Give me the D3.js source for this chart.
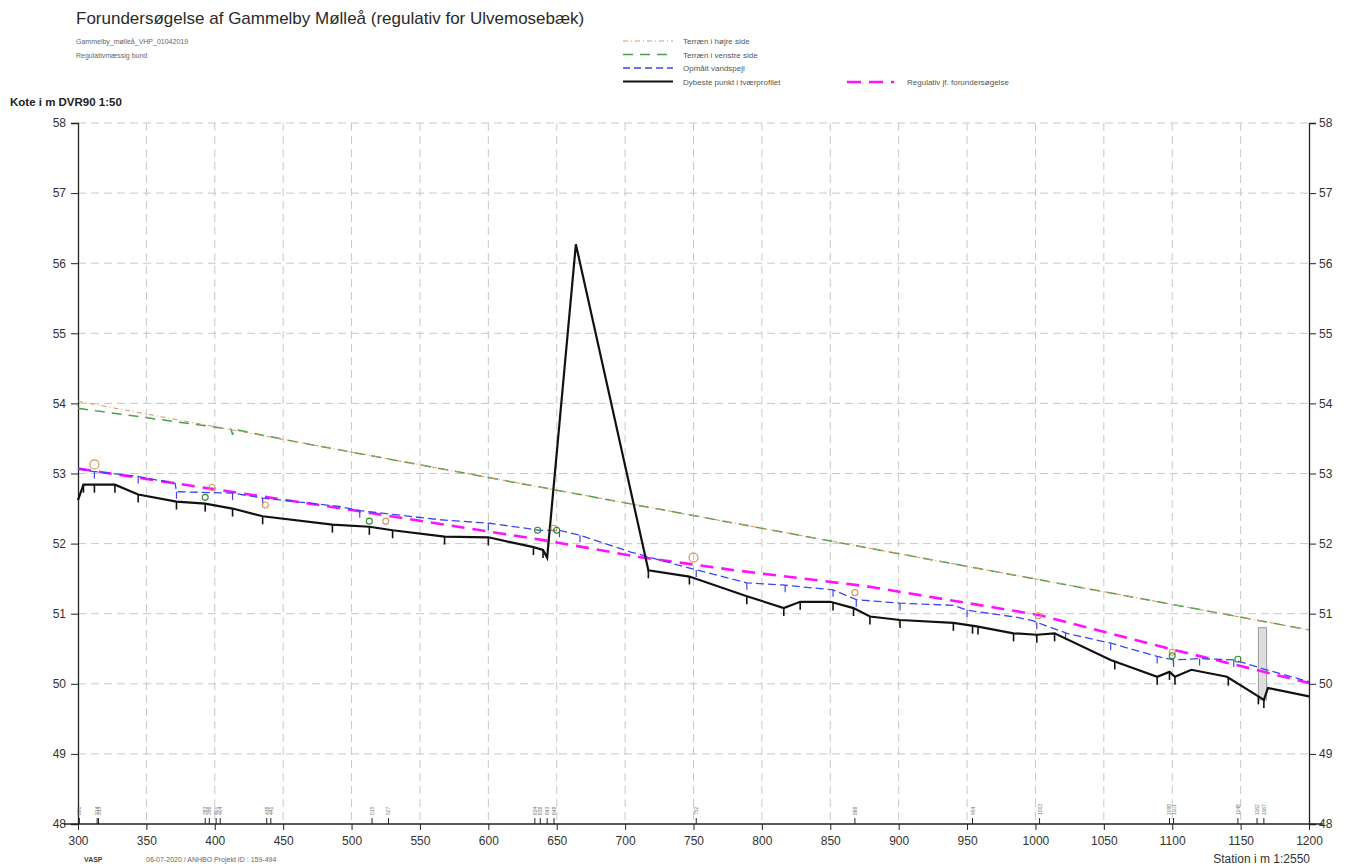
<!DOCTYPE html>
<html lang="da">
  <head>
    <meta charset="UTF-8" />
    <script src="https://cdnjs.cloudflare.com/ajax/libs/d3/7.8.5/d3.min.js"></script>
    <title>Forundersøgelse af Gammelby Mølleå</title>
    <style>
      body { margin: 0; background: white; }
      text { font-family: "Liberation Sans", Arial, sans-serif; }
      .grid line { stroke: #c8c8c8; stroke-dasharray: 8,5; stroke-width: 1; }
      .leg { font-size: 8px; fill: #555; }
    </style>
  </head>
  <body>
    <script>
      // x in station metres, y in kote (m DVR90)
      const xTicks = [300, 350, 400, 450, 500, 550, 600, 650, 700, 750, 800, 850, 900, 950, 1000, 1050, 1100, 1150, 1200];
      const yTicks = [48, 49, 50, 51, 52, 53, 54, 55, 56, 57, 58];

      const terrainRight = [[300, 54.03], [1200, 50.77]];
      const terrainLeft = [[300, 53.93], [412, 53.63], [413, 53.55], [414, 53.63], [460, 53.45], [1200, 50.77]];

      const waterLevel = [
        [300, 53.07], [311, 53.03], [343, 52.96], [371, 52.86], [372, 52.74], [413, 52.72], [435, 52.65],
        [491, 52.53], [506, 52.47], [565, 52.34], [601, 52.29], [638, 52.19], [652, 52.19], [667, 52.12],
        [704, 51.88], [747, 51.65], [789, 51.44], [815, 51.41], [852, 51.34], [869, 51.20], [901, 51.15],
        [940, 51.12], [950, 51.05], [986, 50.95], [998, 50.90], [1006, 50.84], [1023, 50.72], [1055, 50.58],
        [1089, 50.39], [1101, 50.34], [1120, 50.36], [1145, 50.34], [1169, 50.20], [1200, 50.03]
      ];
      const waterTicks = [312, 344, 372, 413, 435, 506, 600, 652, 667, 752, 789, 817, 852, 869, 901, 950, 1001, 1022, 1055, 1089, 1101, 1120, 1145];

      const deepest = [
        [300, 52.62], [304, 52.84], [327, 52.84], [344, 52.70], [372, 52.60], [393, 52.57], [413, 52.50],
        [435, 52.39], [486, 52.27], [513, 52.24], [530, 52.19], [568, 52.10], [600, 52.09], [633, 51.95],
        [640, 51.91], [643, 51.80], [664, 56.27], [717, 51.62], [747, 51.53], [789, 51.25], [816, 51.08],
        [828, 51.17], [850, 51.17], [867, 51.08], [879, 50.96], [901, 50.91], [940, 50.87], [957, 50.82],
        [984, 50.72], [1001, 50.70], [1014, 50.72], [1055, 50.34], [1089, 50.10], [1098, 50.17], [1102, 50.10],
        [1114, 50.20], [1140, 50.10], [1163, 49.82], [1167, 49.77], [1170, 49.94], [1200, 49.82]
      ];
      const deepestTicks = [304, 312, 327, 344, 372, 393, 413, 435, 486, 513, 530, 568, 600, 633, 640, 717, 747, 789, 816, 828,
        852, 867, 879, 901, 940, 954, 958, 984, 1001, 1014, 1058, 1089, 1098, 1102, 1141, 1163, 1167];

      const regulativ = [
        [300, 53.07], [500, 52.48], [640, 52.05], [710, 51.81], [780, 51.62], [877, 51.39],
        [1003, 50.98], [1096, 50.51], [1157, 50.22], [1200, 50.01]
      ];

      const culvert = { x0: 1163, x1: 1169, y0: 49.77, y1: 50.8 };

      const orangeBig = [[312, 53.13], [750, 51.80]];
      const orangeSmall = [[398, 52.80], [437, 52.55], [525, 52.32], [648, 52.22], [868, 51.30], [1002, 50.97], [1100, 50.45]];
      const greenMarks = [[393, 52.66], [513, 52.32], [636, 52.19], [650, 52.19], [1100, 50.40], [1148, 50.35]];

      const stations = ["301", "314", "315", "393", "396", "401", "404", "438", "441", "515", "527", "634", "638", "643",
        "648", "752", "868", "954", "1003", "1098", "1101", "1148", "1162", "1167"];

      const legendItems = [
        { label: "Terræn i højre side", color: "#d9935f", dash: "5,3,1,3", width: 1 },
        { label: "Terræn i venstre side", color: "#4aa04a", dash: "10,7", width: 1.6 },
        { label: "Opmålt vandspejl", color: "#3b46f0", dash: "7,4", width: 1.4 },
        { label: "Dybeste punkt i tværprofilet", color: "#111", dash: null, width: 2.2 }
      ];

      const W = 1347, H = 866;
      const pLeft = 78, pRight = 1309, pTop = 123, pBottom = 824;

      const svg = d3.select("body").append("svg").attr("width", W).attr("height", H);

      const x = d3.scaleLinear().domain([300, 1200]).range([pLeft, pRight]);
      const y = d3.scaleLinear().domain([48, 58]).range([pBottom, pTop]);

      // grid
      const grid = svg.append("g").attr("class", "grid");
      grid.selectAll(".h").data(yTicks.filter(d => d > 48)).enter().append("line")
        .attr("x1", pLeft).attr("x2", pRight)
        .attr("y1", d => y(d)).attr("y2", d => y(d));
      grid.selectAll(".v").data(xTicks.filter(d => d > 300 && d < 1200)).enter().append("line")
        .attr("y1", pTop).attr("y2", pBottom)
        .attr("x1", d => x(d)).attr("x2", d => x(d));

      // axes
      const fmt = d3.format("d");
      const axL = svg.append("g").attr("transform", `translate(${pLeft},0)`).call(d3.axisLeft(y).tickValues(yTicks).tickFormat(fmt).tickSize(7).tickPadding(5));
      const axR = svg.append("g").attr("transform", `translate(${pRight},0)`).call(d3.axisRight(y).tickValues(yTicks).tickFormat(fmt).tickSize(7).tickPadding(3));
      const axB = svg.append("g").attr("transform", `translate(0,${pBottom})`).call(d3.axisBottom(x).tickValues(xTicks).tickFormat(fmt).tickSize(6).tickPadding(6));
      [axL, axR, axB].forEach(a => {
        a.select(".domain").attr("stroke", "#222").attr("stroke-width", 1.3);
        a.selectAll(".tick line").attr("stroke", "#222");
        a.selectAll("text").attr("font-family", "Liberation Sans, Arial, sans-serif").attr("font-size", 12).attr("fill", "#333");
      });
      axB.select(".domain").attr("d", `M${pLeft - 14},0H${pRight + 14}`);

      // station markers along the bottom
      const st = svg.append("g");
      st.selectAll("line").data(stations).enter().append("line")
        .attr("x1", d => x(+d)).attr("x2", d => x(+d))
        .attr("y1", pBottom).attr("y2", pBottom - 6)
        .attr("stroke", "#222").attr("stroke-width", 1);
      st.selectAll("text").data(stations).enter().append("text")
        .attr("transform", d => `translate(${x(+d) + 2},${pBottom - 9}) rotate(-90)`)
        .attr("font-size", 5).attr("fill", "#777")
        .text(d => d);

      const line = d3.line().x(d => x(d[0])).y(d => y(d[1]));

      // terrain
      svg.append("path").datum(terrainLeft).attr("d", line)
        .attr("fill", "none").attr("stroke", "#4aa04a").attr("stroke-width", 1.5).attr("stroke-dasharray", "10,7");
      svg.append("path").datum(terrainRight).attr("d", line)
        .attr("fill", "none").attr("stroke", "#d9935f").attr("stroke-width", 1).attr("stroke-dasharray", "5,3,1,3");

      // culvert
      svg.append("rect")
        .attr("x", x(culvert.x0)).attr("width", x(culvert.x1) - x(culvert.x0))
        .attr("y", y(culvert.y1)).attr("height", y(culvert.y0) - y(culvert.y1))
        .attr("fill", "#dedede").attr("stroke", "#999").attr("stroke-width", 1);

      // regulativ
      svg.append("path").datum(regulativ).attr("d", line)
        .attr("fill", "none").attr("stroke", "#ff10ff").attr("stroke-width", 2.6).attr("stroke-dasharray", "13,8");

      // water level
      const interp = (arr, s) => {
        const i = d3.bisector(d => d[0]).left(arr, s);
        if (i <= 0) return arr[0][1];
        if (i >= arr.length) return arr[arr.length - 1][1];
        const a = arr[i - 1], b = arr[i];
        return a[1] + (b[1] - a[1]) * (s - a[0]) / (b[0] - a[0]);
      };
      svg.append("path").datum(waterLevel).attr("d", line)
        .attr("fill", "none").attr("stroke", "#3b46f0").attr("stroke-width", 1.3).attr("stroke-dasharray", "8,4");
      svg.append("g").selectAll("line").data(waterTicks).enter().append("line")
        .attr("x1", d => x(d)).attr("x2", d => x(d))
        .attr("y1", d => y(interp(waterLevel, d))).attr("y2", d => y(interp(waterLevel, d)) + 7)
        .attr("stroke", "#3b46f0").attr("stroke-width", 1.2);

      // deepest point
      svg.append("path").datum(deepest).attr("d", line)
        .attr("fill", "none").attr("stroke", "#111").attr("stroke-width", 2.2).attr("stroke-linejoin", "miter");
      svg.append("g").selectAll("line").data(deepestTicks).enter().append("line")
        .attr("x1", d => x(d)).attr("x2", d => x(d))
        .attr("y1", d => y(interp(deepest, d))).attr("y2", d => y(interp(deepest, d)) + 8)
        .attr("stroke", "#111").attr("stroke-width", 1.6);

      // markers
      svg.append("g").selectAll("circle").data(orangeBig).enter().append("circle")
        .attr("cx", d => x(d[0])).attr("cy", d => y(d[1])).attr("r", 4.5)
        .attr("fill", "none").attr("stroke", "#d9935f").attr("stroke-width", 1.2);
      svg.append("g").selectAll("circle").data(orangeSmall).enter().append("circle")
        .attr("cx", d => x(d[0])).attr("cy", d => y(d[1])).attr("r", 3)
        .attr("fill", "none").attr("stroke", "#d9935f").attr("stroke-width", 1.1);
      svg.append("g").selectAll("circle").data(greenMarks).enter().append("circle")
        .attr("cx", d => x(d[0])).attr("cy", d => y(d[1])).attr("r", 3)
        .attr("fill", "none").attr("stroke", "#2e8b2e").attr("stroke-width", 1.1);

      // titles
      svg.append("text").attr("x", 76).attr("y", 24).attr("font-size", 17).attr("fill", "#2a2a2a")
        .text("Forundersøgelse af Gammelby Mølleå (regulativ for Ulvemosebæk)");
      svg.append("text").attr("x", 76).attr("y", 44).attr("font-size", 7).attr("fill", "#666")
        .text("Gammelby_mølleå_VHP_01042019");
      svg.append("text").attr("x", 76).attr("y", 58).attr("font-size", 7).attr("fill", "#666")
        .text("Regulativmæssig bund");
      svg.append("text").attr("x", 10).attr("y", 106).attr("font-size", 11.5).attr("font-weight", "bold").attr("fill", "#222")
        .text("Kote i m DVR90 1:50");
      svg.append("text").attr("x", 84).attr("y", 862).attr("font-size", 7).attr("font-weight", "bold").attr("fill", "#444")
        .text("VASP");
      svg.append("text").attr("x", 146).attr("y", 862).attr("font-size", 7).attr("fill", "#666")
        .text("06-07-2020 / ANHBO   Projekt ID : 159-494");
      svg.append("text").attr("x", 1310).attr("y", 863).attr("font-size", 12).attr("fill", "#333").attr("text-anchor", "end")
        .text("Station i m  1:2550");

      // legend
      const leg = svg.append("g");
      legendItems.forEach((d, i) => {
        const ly = 41 + i * 13.5;
        leg.append("line").attr("x1", 623).attr("x2", 673).attr("y1", ly).attr("y2", ly)
          .attr("stroke", d.color).attr("stroke-width", d.width).attr("stroke-dasharray", d.dash);
        leg.append("text").attr("x", 683).attr("y", ly + 3).attr("class", "leg").text(d.label);
      });
      leg.append("line").attr("x1", 847).attr("x2", 900).attr("y1", 82).attr("y2", 82)
        .attr("stroke", "#ff10ff").attr("stroke-width", 2.6).attr("stroke-dasharray", "14,8,14,8,3,20");
      leg.append("text").attr("x", 907).attr("y", 85).attr("class", "leg").text("Regulativ jf. forundersøgelse");
    </script>
  </body>
</html>
